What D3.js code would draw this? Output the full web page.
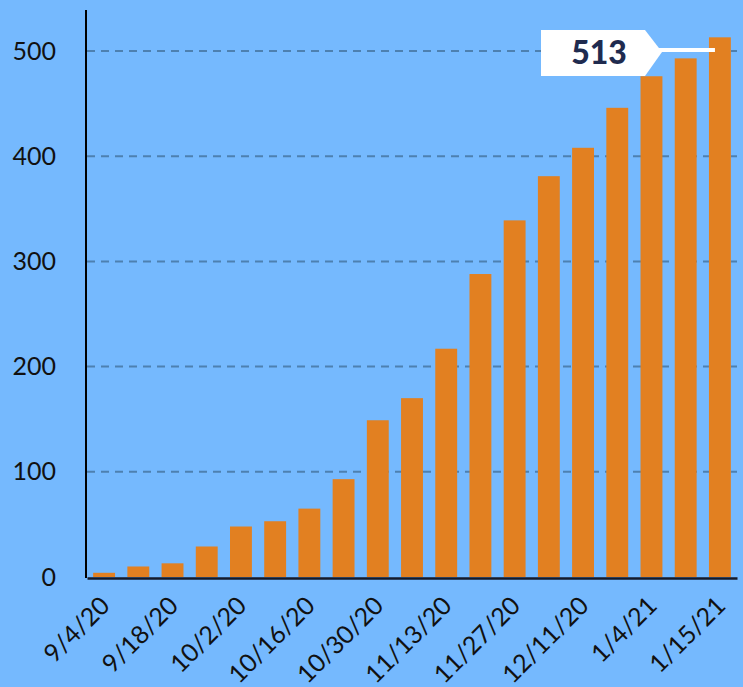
<!DOCTYPE html>
<html>
<head>
<meta charset="utf-8">
<script src="https://cdn.jsdelivr.net/npm/d3@7"></script>
<style>
  html, body { margin: 0; padding: 0; background: #75b9fe; }
  svg { display: block; }
  text { font-family: Lato, "Open Sans", sans-serif; }
</style>
</head>
<body>
<div id="chart"></div>
<script>
// Dates hebdomadaires (une étiquette sur deux est affichée)
const dates = ["9/4/20", "9/11/20", "9/18/20", "9/25/20", "10/2/20", "10/9/20", "10/16/20",
    "10/23/20", "10/30/20", "11/6/20", "11/13/20", "11/20/20", "11/27/20", "12/4/20",
    "12/11/20", "12/18/20", "1/4/21", "1/8/21", "1/15/21"];
const values = [4, 10, 13, 29, 48, 53, 65, 93, 149, 170, 217, 288, 339, 381, 408, 446, 476, 493, 513];
const yTicks = [0, 100, 200, 300, 400, 500];
const shownLabels = ["9/4/20", "9/18/20", "10/2/20", "10/16/20", "10/30/20", "11/13/20",
    "11/27/20", "12/11/20", "1/4/21", "1/15/21"];

const width = 743, height = 687;
const margin = { top: 10, right: 6, bottom: 110, left: 87 };

const svg = d3.select("#chart")
    .append("svg")
    .attr("width", width)
    .attr("height", height);

const x = d3.scaleBand()
    .domain(dates)
    .range([margin.left, width - margin.right])
    .paddingInner(0.36)
    .paddingOuter(0.18);

const y = d3.scaleLinear()
    .domain([0, 500])
    .range([height - margin.bottom, 51]);

// Lignes de grille en pointillés
svg.append("g")
    .selectAll("line")
    .data(yTicks.filter(d => d > 0))
    .enter()
    .append("line")
    .attr("x1", margin.left)
    .attr("x2", width - margin.right)
    .attr("y1", d => y(d))
    .attr("y2", d => y(d))
    .attr("stroke", "#4d80b0")
    .attr("stroke-width", 2)
    .attr("stroke-dasharray", "8,6");

// Barres
svg.append("g")
    .selectAll("rect")
    .data(values)
    .enter()
    .append("rect")
    .attr("x", (d, i) => x(dates[i]))
    .attr("y", d => y(d))
    .attr("width", x.bandwidth())
    .attr("height", d => y(0) - y(d))
    .attr("fill", "#e28021");

// Axe Y
const yAxis = svg.append("g")
    .attr("transform", "translate(" + (margin.left - 1) + ",0)")
    .call(d3.axisLeft(y).tickValues(yTicks).tickSize(0).tickPadding(30));
yAxis.select(".domain").remove();
yAxis.append("line")
    .attr("y1", margin.top)
    .attr("y2", y(0) + 1)
    .attr("stroke", "#000")
    .attr("stroke-width", 2);
yAxis.selectAll("text")
    .attr("font-size", 25)
    .attr("fill", "#111");

// Axe X
const xAxis = svg.append("g")
    .attr("transform", "translate(0," + (y(0) + 1) + ")")
    .call(d3.axisBottom(x).tickValues(shownLabels).tickSize(0));
xAxis.select(".domain")
    .attr("stroke", "#141a2a")
    .attr("stroke-width", 2.5);
xAxis.selectAll("text")
    .attr("font-size", 25)
    .attr("fill", "#111")
    .attr("text-anchor", "end")
    .attr("dy", 0)
    .attr("transform", "translate(5,27) rotate(-45)");

// Annotation de la dernière valeur
const last = values[values.length - 1];
const lastX = x(dates[dates.length - 1]);
const ay = y(500);
svg.append("line")
    .attr("x1", 655)
    .attr("x2", lastX + 6)
    .attr("y1", ay - 1)
    .attr("y2", ay - 1)
    .attr("stroke", "#fff")
    .attr("stroke-width", 4);
svg.append("path")
    .attr("d", "M541,30 L645,30 L662,52 L645,76 L541,76 Z")
    .attr("fill", "#fff");
svg.append("text")
    .attr("x", 599)
    .attr("y", 64)
    .attr("text-anchor", "middle")
    .attr("font-size", 32)
    .attr("font-weight", 900)
    .attr("fill", "#1f2b4f")
    .text(last);
</script>
</body>
</html>
